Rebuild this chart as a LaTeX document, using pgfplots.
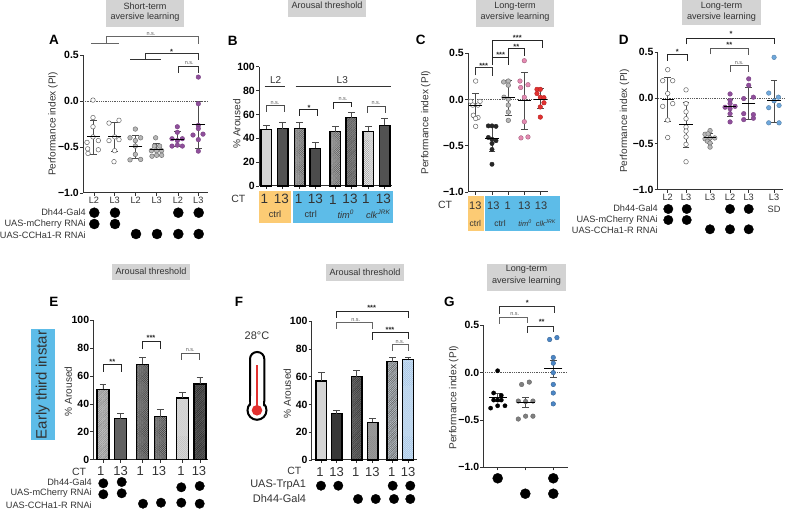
\documentclass[border=0pt]{standalone}
\usepackage{fontspec}
\setmainfont{Liberation Sans}
\usepackage{pgfplots}
\pgfplotsset{compat=1.18}
\usetikzlibrary{patterns.meta}
\newcommand\fs[1]{\fontsize{#1}{#1}\selectfont}
\definecolor{tgrey}{HTML}{D3D3D3}
\definecolor{oran}{HTML}{FCCB74}
\definecolor{sky}{HTML}{5DBCE8}
\definecolor{purp}{HTML}{8F4F9B}
\definecolor{pink}{HTML}{E58AB2}
\definecolor{redd}{HTML}{E2302F}
\definecolor{bluA}{HTML}{6FA8DC}
\definecolor{bluB}{HTML}{4B86C6}
\definecolor{axc}{HTML}{333333}
\pgfplotsset{
  pan/.style={scale only axis, axis x line*=bottom, axis y line*=left, clip=false,
    axis line style={line width=1pt,color=axc,-},
    tick align=outside, major tick length=3pt,
    tick style={line width=.8pt,color=axc},
    yticklabel style={font=\fs{10.5}\bfseries,inner sep=1pt},
    xticklabel style={font=\fs{9.2},color=axc,inner sep=1pt,align=center},
    y label style={font=\fs{10.1},color=axc,anchor=center},
    ymin=-1,ymax=0.5,ytick={-1,-0.5,0,0.5},yticklabels={−1.0,−0.5,0.0,0.5}},
  bpan/.style={pan,ymin=0,ymax=100,ytick={0,20,40,60,80,100},yticklabels={0,20,40,60,80,100},xticklabels={}},
  error bars/error bar style={line width=.7pt,color=black!70},
  error bars/error mark options={line width=.7pt,color=black!70,mark size=3.3pt,rotate=90},
  pO/.style={only marks,mark=*,mark size=2.3pt,mark options={draw=black!60,fill=white,line width=.5pt}},
  pG/.style={only marks,mark=*,mark size=2.3pt,mark options={draw=black!55,fill=black!28,line width=.5pt}},
  pP/.style={only marks,mark=*,mark size=2.3pt,mark options={draw=purp!85!black,fill=purp,line width=.4pt}},
  pK/.style={only marks,mark=*,mark size=2.2pt,mark options={draw=black!85,fill=black!85,line width=.4pt}},
  pI/.style={only marks,mark=*,mark size=2.3pt,mark options={draw=pink!70!black,fill=pink,line width=.4pt}},
  pR/.style={only marks,mark=*,mark size=2.3pt,mark options={draw=redd!80!black,fill=redd,line width=.4pt}},
  pB/.style={only marks,mark=*,mark size=2.3pt,mark options={draw=bluA!75!black,fill=bluA,line width=.4pt}},
  pC/.style={only marks,mark=*,mark size=2.3pt,mark options={draw=bluB!75!black,fill=bluB,line width=.4pt}},
  pD/.style={only marks,mark=*,mark size=2.3pt,mark options={draw=black!60,fill=black!50,line width=.4pt}},
  pK2/.style={only marks,mark=*,mark size=2.1pt,mark options={draw=black,fill=black,line width=.4pt}},
  fPlain/.style={fill=#1},
  fLines/.style 2 args={fill=#1,postaction={pattern={Lines[angle=45,distance=1.3pt,line width=.45pt]},pattern color=#2}},
  fHatch/.style 2 args={fill=#1,postaction={pattern={Hatch[angle=45,distance=1.5pt,line width=.4pt]},pattern color=#2}},
  fDots/.style 2 args={fill=#1,postaction={pattern={Dots[angle=45,distance=1.4pt,radius=.35pt]},pattern color=#2}},
  dotted0/.style={densely dotted,line width=.8pt,color=black!65}
}
% scatter group: style, points, centre x, mean, +err, -err, half width
\newcommand\grp[7]{%
  \addplot[#1] coordinates {#2};
  \addplot[only marks,mark=-,mark size=#7pt,mark options={line width=.9pt,color=black},
    error bars/.cd,y dir=both,y explicit] coordinates {(#3,#4) += (0,#5) -= (0,#6)};
}
% bar: fill style, x, value, err, width
\newcommand\bbar[5]{%
  \addplot[ybar,bar shift=0pt,bar width=#5pt,draw=black,line width=1.2pt,#1,
    error bars/.cd,y dir=plus,y explicit] coordinates {(#2,#3) +- (0,#4)};
}
\newcommand\brk[6]{% x1 x2 ytop yleft yright colour
  \draw[line width=.8pt,color=#6] (#1,#4)--(#1,#3)--(#2,#3)--(#2,#5);}
\newcommand\nsl[2]{\node[font=\fs{5.5},color=black!65,inner sep=0] at (#1,#2) {n.s.};}
\newcommand\st[3]{\node[font=\fs{7.5}\bfseries,color=black!85,inner sep=0] at (#1,#2) {#3};}
\newcommand\lbl[4]{\node[font=\fs{#3},color=axc,inner sep=0] at (#1,#2) {#4};}
\newcommand\rlbl[4]{\node[font=\fs{#3},color=axc,inner sep=0,anchor=east] at (#1,#2) {#4};}
\newcommand\pl[3]{\node[font=\fs{13.5}\bfseries,inner sep=0] at (#1,#2) {#3};}
\newcommand\tbox[4]{\fill[tgrey] (#1,#3) rectangle (#2,#4);}
\begin{document}
\begin{tikzpicture}
\useasboundingbox (0,0) rectangle (785pt,-510pt);

\begin{scope}[x=1pt,y=-1pt]
\tbox{106}{184.3}{0.3}{26.7}
\tbox{288}{366.3}{0}{16.7}
\tbox{475.7}{554}{0}{26.7}
\tbox{682.3}{760.7}{0}{25}
\tbox{112}{190.3}{264.3}{280}
\tbox{325.7}{404}{264.3}{281}
\tbox{487.3}{565.7}{264.3}{290.7}
\fill[oran] (258.7,191) rectangle (291,222.7);
\fill[sky] (293.3,191) rectangle (392.7,222.7);
\fill[oran] (468,196) rectangle (484,230.7);
\fill[sky] (485.3,196) rectangle (560,230.7);
\fill[sky] (31,329) rectangle (54.7,440.3);
\end{scope}

% ---------- A
\begin{axis}[pan,at={(83pt,-193pt)},anchor=south west,width=125pt,height=138pt,
  xmin=250,xmax=625,xtick={283,345,408,471,535,596},xticklabels={L2,L3,L2,L3,L2,L3},
  ylabel={Performance index (PI)},y label style={at={(axis description cs:-0.24,0.5)}}]
\addplot[dotted0] coordinates {(250,0)(625,0)};
\grp{pO}{(280,0.01)(280,-0.18)(280,-0.28)(280,-0.39)(262,-0.45)(296,-0.43)(264,-0.52)(296,-0.53)(265,-0.57)}{281}{-0.39}{0.185}{0.19}{6.7}
\grp{pO}{(328,-0.24)(358,-0.21)(328,-0.43)(358,-0.42)(345,-0.39)(345,-0.54)(343,-0.66)}{345}{-0.39}{0.155}{0.155}{6.7}
\grp{pG}{(407,-0.305)(391,-0.40)(423,-0.40)(407,-0.43)(407,-0.49)(407,-0.58)(391,-0.64)(423,-0.635)}{408}{-0.49}{0.12}{0.13}{6.7}
\grp{pG}{(468,-0.40)(464,-0.49)(480,-0.49)(455,-0.54)(471,-0.54)(486,-0.54)(457,-0.60)(471,-0.59)(486,-0.59)}{471}{-0.525}{0.06}{0.065}{6.7}
\grp{pP}{(533,-0.28)(533,-0.34)(517,-0.41)(548,-0.41)(533,-0.43)(517,-0.49)(533,-0.48)(548,-0.49)}{534}{-0.42}{0.09}{0.07}{6.7}
\grp{pP}{(596,0.26)(596,-0.03)(596,-0.265)(596,-0.30)(580,-0.37)(610,-0.36)(596,-0.42)(596,-0.545)}{596}{-0.255}{0.255}{0.255}{6.7}
\end{axis}

% ---------- B
\begin{axis}[bpan,at={(259pt,-186pt)},anchor=south west,width=132.7pt,height=119.3pt,
  xmin=147,xmax=545,xtick={169,218,269,316,376,424,475,524},
  ylabel={\% Aroused},y label style={at={(axis description cs:-0.168,0.52)}}]
\bbar{fPlain=black!17}{169}{47.5}{3.3}{10.7}
\bbar{fPlain=black!68}{218}{48}{5.4}{10.7}
\bbar{fHatch={black!25}{black!60}}{269}{48.3}{5.1}{10.7}
\bbar{fPlain=black!70}{316}{31.6}{5}{10.7}
\bbar{fHatch={black!25}{black!60}}{376}{45.5}{4.5}{10.7}
\bbar{fLines={black!45}{black!70}}{424}{57.3}{4.4}{10.7}
\bbar{fDots={black!10}{black!60}}{475}{45.8}{4.5}{10.7}
\bbar{fPlain=black!68}{524}{50.8}{5.9}{10.7}
\end{axis}

% ---------- C
\begin{axis}[pan,at={(468pt,-192pt)},anchor=south west,width=80.3pt,height=138.7pt,
  xmin=204,xmax=445,xtick={227,276,324,373,421},xticklabels={},
  ylabel={Performance index (PI)},y label style={at={(axis description cs:-0.525,0.5)}}]
\addplot[dotted0] coordinates {(204,0)(445,0)};
\grp{pO}{(227,0.20)(212,-0.02)(240,-0.02)(218,-0.06)(234,-0.06)(220,-0.17)(234,-0.195)(227,-0.205)(227,-0.29)}{227}{-0.06}{0.13}{0.135}{6.7}
\grp{pK}{(265,-0.285)(276,-0.285)(288,-0.29)(265,-0.41)(276,-0.43)(288,-0.445)(276,-0.475)(276,-0.54)(276,-0.70)}{276}{-0.42}{0.135}{0.145}{6.7}
\grp{pG}{(311,0.19)(325,0.20)(325,0.155)(312,0.025)(325,0.005)(325,-0.06)(325,-0.135)(325,-0.225)}{325}{0.02}{0.19}{0.19}{6.7}
\grp{pI}{(373,0.42)(360,0.20)(384,0.16)(362,0.13)(373,0.025)(373,-0.24)(363,-0.415)(384,-0.405)}{373}{-0.015}{0.31}{0.305}{6.7}
\grp{pR}{(411,0.11)(421,0.11)(411,0.065)(421,0.025)(432,0.02)(432,-0.035)(421,-0.08)(421,-0.19)}{421}{0}{0.12}{0.10}{6.7}
\end{axis}

% ---------- D
\begin{axis}[pan,at={(657.7pt,-189.7pt)},anchor=south west,width=125.7pt,height=137.4pt,
  xmin=218,xmax=595,xtick={248,303,375,435,491,567},xticklabels={L2,L3,L3,L2,L3,{L3\\[3pt]SD}},
  ylabel={Performance index (PI)},y label style={at={(axis description cs:-0.265,0.5)}}]
\addplot[dotted0] coordinates {(218,0)(597,0)};
\grp{pO}{(248,0.31)(233,0.19)(263,0.19)(248,0.05)(233,-0.09)(263,-0.06)(248,-0.24)(248,-0.43)}{248}{-0.01}{0.24}{0.245}{6}
\grp{pO}{(303,0.09)(303,-0.06)(303,-0.15)(303,-0.225)(303,-0.315)(303,-0.36)(303,-0.425)(303,-0.505)(303,-0.695)}{303}{-0.29}{0.245}{0.25}{6.7}
\grp{pG}{(375,-0.355)(360,-0.395)(369,-0.39)(389,-0.435)(375,-0.435)(360,-0.445)(367,-0.47)(375,-0.49)(375,-0.535)}{375}{-0.435}{0.055}{0.055}{6}
\grp{pP}{(435,0.045)(435,-0.025)(435,-0.06)(420,-0.10)(450,-0.09)(435,-0.115)(435,-0.17)(435,-0.26)}{435}{-0.09}{0.08}{0.105}{6}
\grp{pP}{(491,0.21)(491,0.14)(476,-0.005)(505,0.01)(476,-0.17)(505,-0.18)(476,-0.235)(505,-0.22)}{491}{-0.055}{0.17}{0.18}{6.7}
\grp{pB}{(567,0.445)(551,0.055)(580,0.01)(567,-0.03)(551,-0.105)(582,-0.08)(551,-0.27)(582,-0.27)}{567}{-0.03}{0.225}{0.235}{6.7}
\end{axis}

% ---------- E
\begin{axis}[bpan,at={(93.3pt,-459.7pt)},anchor=south west,width=115pt,height=139.4pt,
  xmin=280,xmax=625,xtick={309,361,428,481,547,600},
  ylabel={\% Aroused},y label style={at={(axis description cs:-0.217,0.49)}}]
\bbar{fLines={black!22}{black!50}}{309}{50.5}{3.8}{12}
\bbar{fPlain=black!62}{361}{29.4}{3.9}{12}
\bbar{fHatch={black!40}{black!70}}{428}{68.4}{5}{12}
\bbar{fHatch={black!35}{black!70}}{481}{30.9}{5.2}{12}
\bbar{fDots={black!12}{black!55}}{547}{44.3}{3.8}{12}
\bbar{fLines={black!60}{black!85}}{600}{54.3}{4.6}{12}
\end{axis}

% ---------- F
\begin{axis}[bpan,at={(311.7pt,-460pt)},anchor=south west,width=105.7pt,height=138.7pt,
  xmin=305,xmax=622,xtick={334,380,440,488,547,594},
  ylabel={\% Aroused},y label style={at={(axis description cs:-0.231,0.48)}}]
\bbar{fPlain=black!17}{334}{57}{6.2}{10.7}
\bbar{fPlain=black!78}{380}{33.4}{2.6}{10.7}
\bbar{fLines={black!55}{black!80}}{440}{60.1}{4.6}{10.7}
\bbar{fDots={black!38}{black!65}}{488}{27.2}{2.8}{10.7}
\bbar{fLines={bluA!45!black!30}{black!65}}{547}{70.9}{3.1}{10.7}
\bbar{fDots={bluA!35}{bluB}}{594}{72.6}{1.4}{10.7}
\end{axis}

% ---------- G
\begin{axis}[pan,at={(483.3pt,-467.3pt)},anchor=south west,width=84.3pt,height=142pt,
  xmin=190,xmax=443,xtick={233,317,401},xticklabels={},
  ylabel={Performance index (PI)},y label style={at={(axis description cs:-0.35,0.49)}}]
\addplot[dotted0] coordinates {(190,0)(443,0)};
\grp{pK2}{(233,0.02)(221,-0.215)(244,-0.24)(221,-0.29)(244,-0.29)(233,-0.29)(212,-0.375)(233,-0.35)(255,-0.35)}{233}{-0.26}{0.04}{0.045}{9}
\grp{pD}{(305,-0.125)(328,-0.10)(295,-0.30)(317,-0.305)(339,-0.30)(295,-0.49)(317,-0.46)(339,-0.46)}{317}{-0.315}{0.05}{0.055}{9}
\grp{pC}{(389,0.35)(411,0.37)(400,0.16)(400,0.10)(400,0)(400,-0.125)(400,-0.215)(400,-0.33)}{400}{0.04}{0.09}{0.09}{9}
\end{axis}

% ---------- genotype dots, in page coordinates
\begin{axis}[hide axis,scale only axis,clip=false,at={(0pt,0pt)},anchor=north west,
  width=785pt,height=510pt,xmin=0,xmax=785,ymin=-510,ymax=0]
\addplot[only marks,mark=*,mark size=5pt,color=black] coordinates {
 (94.3,-212.7)(115,-212.7)(178.3,-212.7)(198.7,-212.7)
 (94.3,-224)(115,-224)
 (136,-234)(157,-234)(178.3,-234)(198.7,-234)};
\addplot[only marks,mark=*,mark size=4.7pt,color=black] coordinates {
 (668.3,-209)(686.7,-209)(730,-209)(748.7,-209)
 (668.3,-220)(686.7,-220)
 (710,-229.3)(730,-229.3)(748.7,-229.3)};
\addplot[only marks,mark=*,mark size=4.7pt,color=black] coordinates {
 (103.3,-483.3)(121.7,-482)(181.3,-487.3)(199.7,-486)
 (103.3,-494.3)(121.7,-493.3)
 (143,-503.7)(161,-502.7)(181.3,-502.7)(199.7,-503.7)};
\addplot[only marks,mark=*,mark size=4.7pt,color=black] coordinates {
 (321,-485.7)(338.3,-485.7)(392.7,-485.7)(410.3,-485.7)
 (358,-499)(375.7,-499)(394,-499)(410.3,-499)};
\addplot[only marks,mark=*,mark size=5pt,color=black] coordinates {
 (497.7,-478.3)(553.3,-478.3)(525.3,-493.7)(553.3,-493.7)};
\end{axis}

\begin{scope}[x=1pt,y=-1pt]
% titles
\lbl{145}{6}{9.1}{Short-term}\lbl{145}{17}{9.1}{aversive learning}
\lbl{327}{5.7}{9.1}{Arousal threshold}
\lbl{515}{6}{9.1}{Long-term}\lbl{515}{17}{9.1}{aversive learning}
\lbl{721.5}{6}{9.1}{Long-term}\lbl{721.5}{17}{9.1}{aversive learning}
\lbl{151}{271.7}{9.1}{Arousal threshold}
\lbl{365}{272}{9.1}{Arousal threshold}
\lbl{526.5}{269.7}{9.1}{Long-term}\lbl{526.5}{281}{9.1}{aversive learning}
% panel letters
\pl{54}{40}{A}\pl{232.7}{40.7}{B}\pl{420.7}{40}{C}\pl{623.7}{40}{D}
\pl{54}{302}{E}\pl{239}{301.7}{F}\pl{449.3}{301.7}{G}
% A
\draw[line width=1pt,color=black!60] (91,43.7)--(119.3,43.7);
\brk{106}{198.3}{36.7}{43.7}{44.3}{black!60}\nsl{151}{33.7}
\draw[line width=.9pt,color=black!80] (130.3,59.7)--(161,59.7);
\brk{145.7}{198.3}{53.3}{59.7}{60}{black!80}\st{171.7}{51.7}{*}
\brk{178.7}{198.7}{66}{72.7}{72.7}{black!80}\nsl{189.3}{63.3}
\rlbl{86}{212.3}{9.2}{Dh44-Gal4}\rlbl{86}{224}{9.2}{UAS-mCherry RNAi}\rlbl{86}{235}{9.2}{UAS-CCHa1-R RNAi}
% B
\lbl{275.7}{80}{10}{L2}\lbl{342.3}{80}{10}{L3}
\draw[line width=.8pt,color=black!80] (264.7,86.3)--(284.7,86.3) (295.7,86.3)--(391,86.3);
\brk{266}{284}{105.7}{111.7}{112.3}{black!70}\nsl{275}{103}
\brk{299.7}{317.3}{109}{115.7}{115.7}{black!85}\st{309}{108}{*}
\brk{333.7}{351.3}{102}{109}{107}{black!85}\nsl{343}{99}
\brk{367.3}{385.3}{106.3}{112.7}{112.7}{black!70}\nsl{376}{103.5}
\lbl{238.3}{199}{10.5}{CT}
\lbl{264.3}{199.3}{13.5}{1}\lbl{281.3}{199.3}{13.5}{13}\lbl{298.7}{199.3}{13.5}{1}\lbl{315.3}{199.3}{13.5}{13}
\lbl{333}{200.3}{13.5}{1}\lbl{350}{199.3}{13.5}{13}\lbl{366}{199.3}{13.5}{1}\lbl{383.3}{199.3}{13.5}{13}
\lbl{275}{214}{9.2}{ctrl}\lbl{310.7}{214}{9.2}{ctrl}
\lbl{345.7}{214}{9.2}{\textit{tim}\textsuperscript{\textit{0}}}\lbl{378.3}{214}{9.2}{\textit{clk}\textsuperscript{\textit{JRK}}}
% C
\brk{475}{492.3}{67.7}{75.3}{76}{black!80}\st{483.7}{66}{***}
\brk{492.3}{508.7}{57.7}{65.3}{65.3}{black!85}\st{500.7}{55}{***}
\brk{508.7}{524.3}{48.3}{57.3}{56}{black!85}\st{516.3}{46.7}{**}
\brk{492}{542.7}{40.7}{57.3}{47.7}{black!85}\st{517.3}{38.3}{***}
\lbl{445}{205}{10.5}{CT}
\lbl{475.3}{205.7}{11}{13}\lbl{493.3}{205.7}{11}{13}\lbl{507.7}{205.7}{11}{1}\lbl{524.3}{205.7}{11}{13}\lbl{541}{205.7}{11}{13}
\lbl{475.3}{223.3}{8.5}{ctrl}\lbl{500}{223.3}{8.5}{ctrl}
\lbl{525}{223.3}{7.5}{\textit{tim}\textsuperscript{\textit{0}}}\lbl{546}{223.3}{7.5}{\textit{clk}\textsuperscript{\textit{JRK}}}
% D
\brk{667.3}{687.7}{54}{60.7}{60.7}{black!85}\st{677.3}{51.7}{*}
\brk{710.3}{748.7}{48}{54.3}{55}{black!65}\st{729.3}{45}{**}
\brk{730.7}{748.7}{65.7}{71.7}{71.7}{black!65}\nsl{739.3}{62.7}
\brk{686}{774}{38.3}{44.3}{44.3}{black!85}\st{731}{34.3}{*}
\rlbl{658}{208.3}{9.2}{Dh44-Gal4}\rlbl{658}{219.7}{9.2}{UAS-mCherry RNAi}\rlbl{658}{230.7}{9.2}{UAS-CCHa1-R RNAi}
% E
\node[font=\fs{15},color=axc,rotate=90,inner sep=0] at (42.8,385) {Early third instar};
\brk{103}{121}{364}{371.7}{371.7}{black!85}\st{112.3}{361.7}{**}
\brk{142.3}{160.3}{341.3}{348.7}{348.7}{black!85}\st{151}{338.3}{***}
\brk{181.7}{199.3}{353}{359.7}{359.7}{black!65}\nsl{190.3}{350}
\lbl{79}{471.7}{10.5}{CT}
\lbl{100.7}{470.7}{13}{1}\lbl{120.7}{470.7}{13}{13}\lbl{140.3}{470.7}{13}{1}\lbl{159}{470.7}{13}{13}\lbl{181}{470.7}{13}{1}\lbl{199}{470.7}{13}{13}
\rlbl{92}{482.3}{9.2}{Dh44-Gal4}\rlbl{92}{493}{9.2}{UAS-mCherry RNAi}\rlbl{92}{505}{9.2}{UAS-CCHa1-R RNAi}
% F
\brk{336.7}{408}{311.3}{317.7}{317.7}{black!85}\st{371.7}{307.7}{***}
\brk{336.7}{372.7}{322.7}{329}{329}{black!60}\nsl{355.7}{320.3}
\brk{372.7}{408}{332.3}{340}{339.3}{black!85}\st{390}{329.7}{***}
\brk{392.3}{408}{344.3}{351}{351}{black!60}\nsl{400}{341.7}
\lbl{294.3}{470.7}{10.5}{CT}
\lbl{320}{472.3}{13}{1}\lbl{336.7}{472.3}{13}{13}\lbl{355.7}{472.3}{13}{1}\lbl{372.3}{472.3}{13}{13}\lbl{391.7}{472.3}{13}{1}\lbl{408}{472.3}{13}{13}
\rlbl{306.3}{485}{11}{UAS-TrpA1}\rlbl{306.3}{498.3}{11}{Dh44-Gal4}
\lbl{257}{335.7}{11}{28°C}
% thermometer
\draw[line width=2pt,fill=white] (257,410.3) circle (9.5);
\draw[line width=2pt,fill=white,rounded corners=7pt] (250,352) rectangle (264.3,408);
\fill[white] (251.1,396) rectangle (263.2,409.5);
\fill[redd] (257,410.3) circle (5.3);
\fill[redd] (256,365) rectangle (258.2,410);
% G
\brk{499.7}{554}{306.3}{314}{313.3}{black!80}\st{527.3}{303.3}{*}
\brk{499.7}{527.3}{317}{324}{323.3}{black!60}\nsl{514.7}{314}
\brk{527}{553.7}{326}{332.7}{332.3}{black!80}\st{541.7}{322.3}{**}
\end{scope}
\end{tikzpicture}
\end{document}
